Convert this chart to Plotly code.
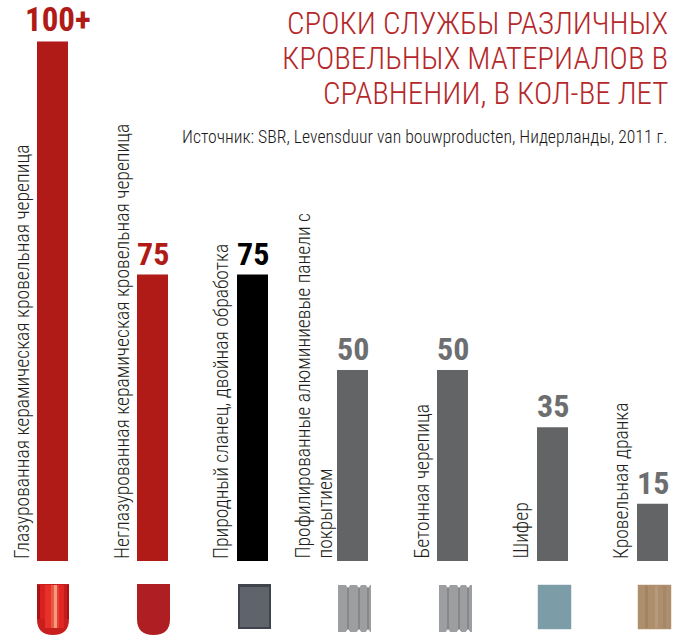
import plotly.graph_objects as go

# ---- data ----
categories = ["Глазурованная керамическая кровельная черепица",
              "Неглазурованная керамическая кровельная черепица",
              "Природный сланец, двойная обработка",
              "Профилированные алюминиевые панели с<br>покрытием",
              "Бетонная черепица",
              "Шифер",
              "Кровельная дранка"]
drawn_values = [136, 75, 75, 50, 50, 35, 15]   # the 100+ bar is drawn taller than scale
value_labels = ["100+", "75", "75", "50", "50", "35", "15"]
bar_colors = ["#b01a17", "#b01a17", "#000000", "#636466", "#636466", "#636466", "#636466"]
label_colors = ["#b01a17", "#b01a17", "#000000", "#6d6e70", "#6d6e70", "#6d6e70", "#6d6e70"]
label_shift = [-30, -30, -31, -50, -31, -32, -31]
second_line_shift = [0, 0, 0, -28, 0, 0, 0]
value_shift = [5.5, 0, 0, 0, 0, 0, 0]
value_sizes = [33, 32, 32, 32, 32, 32, 32]
title_lines = ["СРОКИ СЛУЖБЫ РАЗЛИЧНЫХ", "КРОВЕЛЬНЫХ МАТЕРИАЛОВ В", "СРАВНЕНИИ, В КОЛ-ВЕ ЛЕТ"]
subtitle = "Источник: SBR, Levensduur van bouwproducten, Нидерланды, 2011 г."

W, H = 675, 637
FONT = "Roboto Condensed"
idx = list(range(len(categories)))

fig = go.Figure(go.Bar(
    x=idx, y=drawn_values, width=0.31, marker=dict(color=bar_colors, line_width=0),
    hoverinfo="skip"))

ann = []
for i, c in enumerate(categories):
    for k, part in enumerate(c.split("<br>")):
        ann.append(dict(x=i, y=0, xref="x", yref="y", text=part, textangle=-90, showarrow=False,
                        xanchor="center", yanchor="bottom",
                        xshift=label_shift[i] if k == 0 else second_line_shift[i],
                        font=dict(family=FONT, size=19.6, weight=300, color="#231f20")))
    ann.append(dict(x=i, y=drawn_values[i], xref="x", yref="y", text=value_labels[i], showarrow=False,
                    xanchor="center", yanchor="bottom", xshift=value_shift[i], yshift=0,
                    font=dict(family=FONT, size=value_sizes[i], weight="bold", color=label_colors[i])))
for line, yb in zip(title_lines, [44, 79, 114]):
    ann.append(dict(x=670 / W, y=1 - yb / H, xref="paper", yref="paper", text=line, showarrow=False,
                    xanchor="right", yanchor="bottom",
                    font=dict(family=FONT, size=31, weight=300, color="#b5282a")))
ann.append(dict(x=669 / W, y=1 - 149 / H, xref="paper", yref="paper", text=subtitle, showarrow=False,
                xanchor="right", yanchor="bottom", font=dict(family=FONT, size=17.7, weight=300, color="#1a1718")))

# ---- decorative material swatches under the bars ----
def px(x): return x / W
def py(y): return 1 - y / H

def rect(x0, y0, x1, y1, color, edge=None):
    return dict(type="rect", xref="paper", yref="paper", x0=px(x0), x1=px(x1), y0=py(y0), y1=py(y1),
                fillcolor=color, line=dict(color=edge or color, width=1 if edge else 0), layer="above")

def poly(points, color):
    p = "M " + " L ".join(f"{px(x)} {py(y)}" for x, y in points) + " Z"
    return dict(type="path", xref="paper", yref="paper", path=p, fillcolor=color, line_width=0, layer="above")

def u_path(x0, y0, x1, y1, color):
    xm = (x0 + x1) / 2
    ys = y1 - 16
    p = (f"M {px(x0)} {py(y0)} L {px(x1)} {py(y0)} L {px(x1)} {py(ys)} "
         f"Q {px(x1)} {py(y1)} {px(xm)} {py(y1)} Q {px(x0)} {py(y1)} {px(x0)} {py(ys)} Z")
    return dict(type="path", xref="paper", yref="paper", path=p, fillcolor=color, line_width=0, layer="above")

shapes = []
# glazed tile: shading strips on a red U shape
shapes.append(u_path(37, 584, 69, 635, "#c81e1e"))
glaze = [(37, 40, "#a81414"), (40, 45, "#d92020"), (45, 51, "#e8302a"), (51, 54, "#e85a40"),
         (54, 57, "#f59a80"), (57, 59, "#e84030"), (59, 64, "#e02622"), (64, 67, "#c81a1a"), (67, 69, "#a81414")]
for a, b, col in glaze:
    bottom = 619 if (a <= 40 or b >= 67) else 628
    shapes.append(rect(a, 585, b, bottom, col))
# unglazed tile
shapes.append(u_path(137, 584, 170, 635, "#ae1e22"))
# slate
shapes.append(rect(238, 584, 271, 629, "#3f434c"))
shapes.append(rect(240, 587, 269, 627, "#5f636b"))
# profiled panels / concrete tile
for x0, valleys in ((338, (9, 20, 29)), (439, (8, 19, 28))):
    shapes.append(rect(x0, 585, x0 + 33, 632, "#9c9ea0"))
    for dx in valleys:
        shapes.append(rect(x0 + dx, 587, x0 + dx + 2, 630, "#85878a"))
        shapes.append(poly([(x0 + dx - 2, 584), (x0 + dx + 4, 584), (x0 + dx + 1, 588)], "#ffffff"))
        shapes.append(poly([(x0 + dx - 2, 633), (x0 + dx + 4, 633), (x0 + dx + 1, 629)], "#ffffff"))
# slate blue
shapes.append(rect(538, 585, 571, 629, "#7c9ca8", "rgba(124,156,168,0.45)"))
# wood shingle
shapes.append(rect(638, 585, 671, 629, "#ad8f6e", "rgba(173,143,110,0.45)"))
for dx, col in [(7, "#a3845f"), (17, "#b89a7a"), (25, "#a5876a")]:
    shapes.append(rect(638 + dx, 586, 638 + dx + 3, 628, col))

fig.update_layout(
    width=W, height=H, margin=dict(l=0, r=0, t=0, b=0), autosize=False,
    paper_bgcolor="white", plot_bgcolor="white", showlegend=False,
    xaxis=dict(range=[-0.525, 6.225], visible=False, fixedrange=True),
    yaxis=dict(range=[-76 / 3.82, 561 / 3.82], visible=False, fixedrange=True),
    annotations=ann, shapes=shapes,
)
fig.write_html("out.html", config=dict(displayModeBar=False),
               post_script="document.body.style.margin='0';document.body.style.overflow='hidden';")
